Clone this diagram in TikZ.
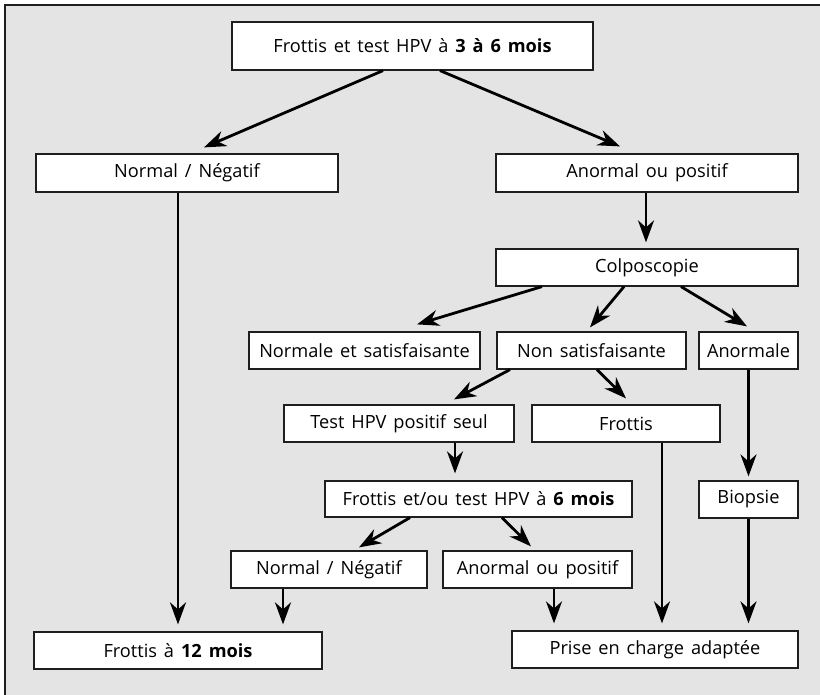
\documentclass[tikz,border=0pt]{standalone}
\usepackage{fontspec}
\setmainfont[Ligatures=NoCommon]{Open Sans}
\usetikzlibrary{arrows.meta}
\definecolor{bgc}{HTML}{E4E4E4}
\definecolor{lnc}{HTML}{1E1E1E}
\newcommand\myboxfont{\fontsize{18.2}{21}\selectfont\spaceskip=0.38em plus 0.1em minus 0.05em\relax}
\tikzset{
  box/.style={draw=lnc, line width=1.2pt, fill=white, inner sep=0pt, font=\myboxfont},
  arr/.style={line width=2.8pt, -{Stealth[length=22pt, width=16pt, inset=7pt]}},
}
\newcommand\bx[6]{\node[box, minimum width={(#4-#2)*1pt}, minimum height={(#5-#3)*1pt}] (#1) at ({(#2+#4)/2},{(#3+#5)/2}) {#6};}
\begin{document}
\begin{tikzpicture}[x=1pt, y=-1pt]
\useasboundingbox (0,0) rectangle (820,695);
\fill[bgc] (5,5) rectangle (820,695);
\draw[lnc, line width=1.3pt] (5,695) -- (5,5) -- (820,5);
\bx{top}{232}{22}{593}{70}{Frottis et test HPV à \textbf{3 à 6 mois}}
\bx{nn}{36}{154}{338}{192}{Normal / Négatif}
\bx{ap}{496}{154}{798}{192}{Anormal ou positif}
\bx{colpo}{496}{249}{798}{286}{Colposcopie}
\bx{nsat}{249}{332}{480}{369}{Normale et satisfaisante}
\bx{nonsat}{497}{332}{686}{369}{Non satisfaisante}
\bx{anorm}{699}{332}{798}{369}{Anormale}
\bx{thpv}{284}{405}{514}{442}{Test HPV positif seul}
\bx{frot}{532}{405}{720}{442}{Frottis}
\bx{fet}{325}{481}{632}{517}{Frottis et/ou test HPV à \textbf{6 mois}}
\bx{biop}{699}{481}{798}{518}{Biopsie}
\bx{nn2}{231}{551}{427}{588}{Normal / Négatif}
\bx{ap2}{443}{551}{632}{588}{Anormal ou positif}
\bx{f12}{34}{632}{322}{669}{Frottis à \textbf{12 mois}}
\bx{prise}{512}{631}{798}{668}{Prise en charge adaptée}
% connectors
\draw[arr] ([xshift=-29.5pt]top.south) -- ([xshift=17pt, yshift=6pt]nn.north);
\draw[arr] ([xshift=27.5pt]top.south) -- ([xshift=-27pt, yshift=7pt]ap.north);
\draw[arr] (nn.south -| f12.north) -- ([yshift=7pt]f12.north);
\draw[arr] ([xshift=-1pt]ap.south) -- ([xshift=-1pt, yshift=6pt]colpo.north);
\draw[arr] ([xshift=-105pt]colpo.south) -- ([xshift=52.5pt, yshift=7pt]nsat.north);
\draw[arr] ([xshift=-23pt]colpo.south) -- ([xshift=-1.5pt, yshift=4pt]nonsat.north);
\draw[arr] ([xshift=34pt]colpo.south) -- ([xshift=-1.5pt, yshift=5pt]anorm.north);
\draw[arr] ([xshift=-81.5pt]nonsat.south) -- ([xshift=55pt, yshift=5pt]thpv.north);
\draw[arr] ([xshift=5.5pt]nonsat.south) -- ([yshift=6pt]frot.north);
\draw[arr] (anorm.south) -- ([yshift=4pt]biop.north);
\draw[arr] ([xshift=56pt]thpv.south) -- ([xshift=-23.5pt, yshift=7pt]fet.north);
\draw[arr] ([xshift=36pt]frot.south) -- ([xshift=7pt, yshift=7pt]prise.north);
\draw[arr] ([xshift=-68.5pt]fet.south) -- ([xshift=30pt, yshift=3pt]nn2.north);
\draw[arr] ([xshift=23.5pt]fet.south) -- ([xshift=-6.5pt, yshift=4pt]ap2.north);
\draw[arr] (biop.south) -- ([yshift=7pt]prise.north -| biop.south);
\draw[arr] ([xshift=-46pt]nn2.south) -- ([xshift=-46pt, yshift=7pt]nn2.south |- f12.north);
\draw[arr] ([xshift=16.5pt]ap2.south) -- ([xshift=16.5pt, yshift=7pt]ap2.south |- prise.north);
\end{tikzpicture}
\end{document}
